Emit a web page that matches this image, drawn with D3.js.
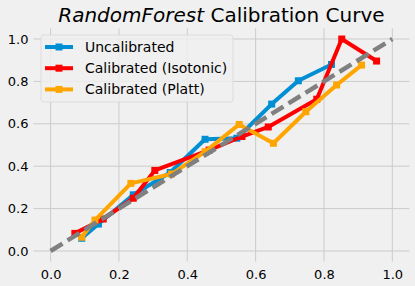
<!DOCTYPE html>
<html>
<head>
<meta charset="utf-8">
<script src="https://cdn.jsdelivr.net/npm/d3@7"></script>
<style>
  html, body { margin: 0; padding: 0; background: #f0f0f0; }
  svg { display: block; font-family: "DejaVu Sans", sans-serif; }
</style>
</head>
<body>
<svg id="chart" width="415" height="286"></svg>
<script>
// calibration curves (mean predicted value, fraction of positives)
const uncalX = [0.091, 0.14, 0.242, 0.35, 0.452, 0.545, 0.647, 0.725, 0.822];
const uncalY = [0.06, 0.127, 0.265, 0.37, 0.527, 0.532, 0.693, 0.803, 0.88];
const isoX = [0.071, 0.154, 0.242, 0.305, 0.464, 0.56, 0.637, 0.779, 0.852, 0.954];
const isoY = [0.083, 0.151, 0.249, 0.38, 0.476, 0.54, 0.585, 0.716, 1.0, 0.896];
const plattX = [0.091, 0.13, 0.235, 0.354, 0.452, 0.552, 0.652, 0.747, 0.837, 0.91];
const plattY = [0.065, 0.146, 0.319, 0.363, 0.468, 0.597, 0.508, 0.657, 0.783, 0.877];
const seriesNames = ["Uncalibrated", "Calibrated (Isotonic)", "Calibrated (Platt)"];
const seriesColors = ["#008fd5", "#ff0000", "#ffa500"];
const ticks = [0, 0.2, 0.4, 0.6, 0.8, 1.0];

const svg = d3.select("#chart");
const x = d3.scaleLinear().domain([-0.05, 1.05]).range([33.5, 409.4]);
const y = d3.scaleLinear().domain([-0.05, 1.05]).range([261.6, 28.4]);

// grid
svg.append("g").selectAll("line").data(ticks).join("line")
    .attr("x1", d => x(d)).attr("x2", d => x(d))
    .attr("y1", y.range()[0]).attr("y2", y.range()[1])
    .attr("stroke", "#cbcbcb").attr("stroke-width", 1);
svg.append("g").selectAll("line").data(ticks).join("line")
    .attr("y1", d => y(d)).attr("y2", d => y(d))
    .attr("x1", x.range()[0]).attr("x2", x.range()[1])
    .attr("stroke", "#cbcbcb").attr("stroke-width", 1);

// axes (labels only, no ticks or spines)
const xAxis = svg.append("g")
    .attr("transform", "translate(0," + y.range()[0] + ")")
    .call(d3.axisBottom(x).tickValues(ticks).tickFormat(d3.format(".1f")).tickSize(0).tickPadding(8));
const yAxis = svg.append("g")
    .attr("transform", "translate(" + x.range()[0] + ",0)")
    .call(d3.axisLeft(y).tickValues(ticks).tickFormat(d3.format(".1f")).tickSize(0).tickPadding(5));
[xAxis, yAxis].forEach(a => {
    a.select(".domain").remove();
    a.selectAll("text").attr("font-size", 13).attr("fill", "#000")
        .attr("font-family", "DejaVu Sans, sans-serif");
});

const data = [
    d3.zip(uncalX, uncalY),
    d3.zip(isoX, isoY),
    d3.zip(plattX, plattY)
];
const line = d3.line().x(d => x(d[0])).y(d => y(d[1]));

data.forEach((pts, i) => {
    const g = svg.append("g");
    g.append("path").attr("d", line(pts))
        .attr("fill", "none").attr("stroke", seriesColors[i])
        .attr("stroke-width", 4).attr("stroke-linejoin", "round");
    g.selectAll("rect").data(pts).join("rect")
        .attr("x", d => x(d[0]) - 3.5).attr("y", d => y(d[1]) - 3.5)
        .attr("width", 7).attr("height", 7)
        .attr("fill", seriesColors[i]);
});

// perfectly calibrated diagonal
svg.append("path").attr("d", line([[0, 0], [1, 1]]))
    .attr("fill", "none").attr("stroke", "#808080")
    .attr("stroke-width", 4.5).attr("stroke-dasharray", "14,6");

// title
const title = svg.append("text")
    .attr("x", (x.range()[0] + x.range()[1]) / 2).attr("y", 22)
    .attr("text-anchor", "middle").attr("font-size", 20).attr("fill", "#000");
title.append("tspan").attr("font-style", "italic").text("RandomForest");
title.append("tspan").text(" Calibration Curve");

// legend
const leg = svg.append("g").attr("transform", "translate(41,35)");
leg.append("rect").attr("width", 192).attr("height", 67)
    .attr("rx", 3).attr("fill", "#f0f0f0").attr("fill-opacity", 0.8)
    .attr("stroke", "#dcdcdc").attr("stroke-width", 1);
seriesNames.forEach((name, i) => {
    const cy = 12 + i * 21.2;
    leg.append("line").attr("x1", 4).attr("x2", 32).attr("y1", cy).attr("y2", cy)
        .attr("stroke", seriesColors[i]).attr("stroke-width", 4);
    leg.append("rect").attr("x", 18 - 3.5).attr("y", cy - 3.5).attr("width", 7).attr("height", 7)
        .attr("fill", seriesColors[i]);
    leg.append("text").attr("x", 44).attr("y", cy).attr("dy", "0.35em")
        .attr("font-size", 14).attr("fill", "#000").text(name);
});
</script>
</body>
</html>
